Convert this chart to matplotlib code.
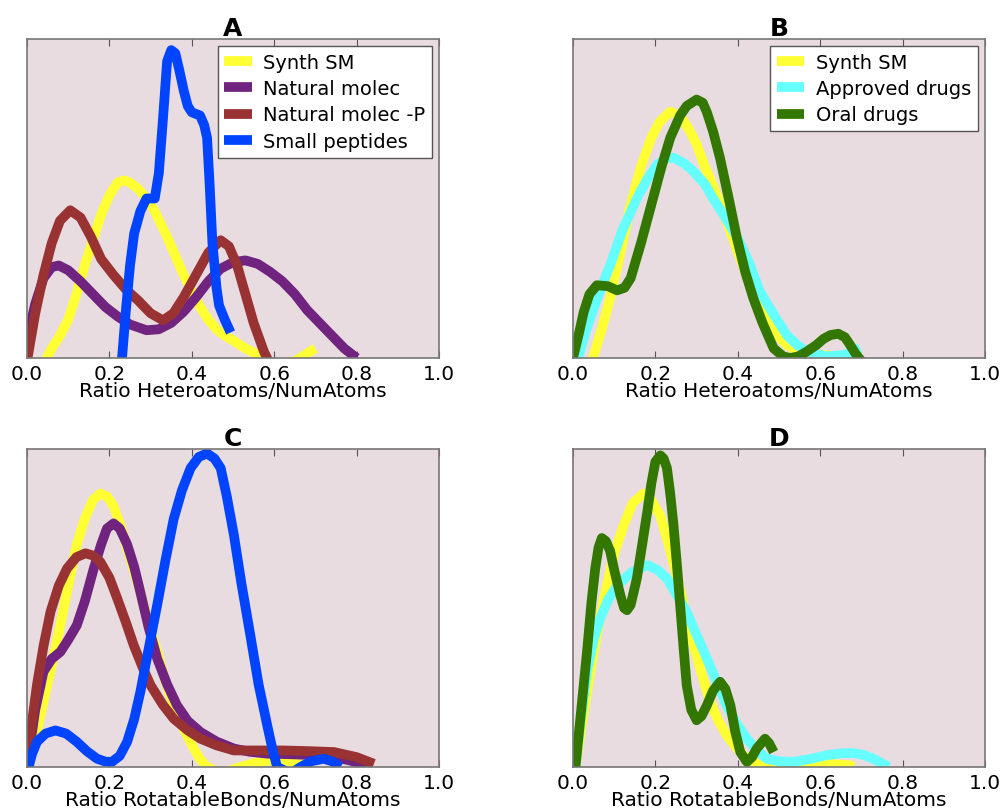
import numpy as np
import matplotlib.pyplot as plt

# panel A - heteroatom ratio
a_synth_x = [0.04, 0.06, 0.08, 0.10, 0.12, 0.14, 0.16, 0.18, 0.20, 0.22, 0.235, 0.25, 0.27, 0.29, 0.31, 0.34, 0.36, 0.38, 0.40, 0.42, 0.44, 0.46, 0.48, 0.50, 0.53, 0.56, 0.60, 0.65, 0.70]
a_synth_y = [-0.02, 0.03, 0.07, 0.12, 0.20, 0.29, 0.37, 0.45, 0.51, 0.55, 0.557, 0.55, 0.53, 0.50, 0.46, 0.38, 0.32, 0.26, 0.21, 0.16, 0.12, 0.09, 0.07, 0.055, 0.03, 0.01, -0.02, -0.01, 0.03]
a_nat_x = [0.0, 0.02, 0.04, 0.06, 0.077, 0.10, 0.13, 0.16, 0.19, 0.22, 0.25, 0.29, 0.32, 0.35, 0.38, 0.41, 0.44, 0.47, 0.50, 0.53, 0.56, 0.59, 0.62, 0.65, 0.68, 0.71, 0.74, 0.77, 0.80]
a_nat_y = [0.06, 0.17, 0.25, 0.285, 0.29, 0.275, 0.24, 0.20, 0.16, 0.13, 0.105, 0.087, 0.09, 0.11, 0.145, 0.19, 0.24, 0.28, 0.30, 0.306, 0.295, 0.27, 0.24, 0.20, 0.15, 0.11, 0.07, 0.03, 0.0]
a_natp_x = [0.0, 0.02, 0.04, 0.06, 0.08, 0.105, 0.13, 0.155, 0.18, 0.21, 0.24, 0.27, 0.30, 0.33, 0.355, 0.38, 0.41, 0.44, 0.47, 0.49, 0.51, 0.53, 0.55, 0.575, 0.59]
a_natp_y = [-0.01, 0.14, 0.26, 0.36, 0.43, 0.463, 0.44, 0.38, 0.31, 0.26, 0.215, 0.18, 0.14, 0.118, 0.14, 0.19, 0.26, 0.33, 0.369, 0.35, 0.29, 0.20, 0.11, 0.02, -0.02]
a_pep_x = [0.23, 0.24, 0.25, 0.26, 0.275, 0.29, 0.31, 0.32, 0.33, 0.34, 0.35, 0.36, 0.37, 0.38, 0.39, 0.40, 0.42, 0.43, 0.437, 0.443, 0.45, 0.46, 0.466, 0.48, 0.494]
a_pep_y = [-0.01, 0.15, 0.29, 0.39, 0.46, 0.50, 0.50, 0.58, 0.75, 0.93, 0.965, 0.955, 0.90, 0.84, 0.79, 0.77, 0.76, 0.73, 0.69, 0.55, 0.36, 0.22, 0.165, 0.12, 0.08]

# panel B - heteroatom ratio, drugs
b_synth_x = [0.046, 0.07, 0.09, 0.115, 0.14, 0.165, 0.19, 0.21, 0.236, 0.26, 0.28, 0.30, 0.32, 0.34, 0.37, 0.40, 0.43, 0.454, 0.49, 0.52, 0.55, 0.60, 0.65, 0.70]
b_synth_y = [-0.01, 0.09, 0.186, 0.33, 0.48, 0.60, 0.69, 0.74, 0.772, 0.76, 0.72, 0.67, 0.60, 0.54, 0.44, 0.333, 0.23, 0.155, 0.08, 0.04, 0.02, 0.01, 0.005, 0.01]
b_appr_x = [0.01, 0.03, 0.05, 0.07, 0.09, 0.12, 0.155, 0.18, 0.204, 0.225, 0.244, 0.27, 0.293, 0.32, 0.34, 0.37, 0.40, 0.43, 0.454, 0.49, 0.52, 0.545, 0.567, 0.616, 0.66, 0.697]
b_appr_y = [-0.01, 0.08, 0.155, 0.225, 0.29, 0.40, 0.50, 0.56, 0.605, 0.625, 0.628, 0.61, 0.584, 0.545, 0.50, 0.44, 0.375, 0.29, 0.207, 0.13, 0.07, 0.04, 0.02, 0.005, 0.01, 0.03]
b_oral_x = [0.0, 0.015, 0.026, 0.04, 0.058, 0.085, 0.107, 0.125, 0.14, 0.165, 0.19, 0.215, 0.236, 0.26, 0.276, 0.30, 0.315, 0.325, 0.34, 0.357, 0.378, 0.398, 0.418, 0.438, 0.46, 0.487, 0.51, 0.527, 0.547, 0.567, 0.59, 0.608, 0.625, 0.644, 0.66, 0.673, 0.685, 0.70]
b_oral_y = [0.0, 0.08, 0.144, 0.20, 0.228, 0.225, 0.212, 0.22, 0.25, 0.36, 0.48, 0.60, 0.69, 0.76, 0.79, 0.81, 0.80, 0.77, 0.71, 0.626, 0.50, 0.375, 0.27, 0.186, 0.11, 0.03, 0.005, 0.0, 0.005, 0.02, 0.04, 0.06, 0.072, 0.076, 0.065, 0.04, 0.015, -0.01]

# panel C - rotatable bond ratio
c_synth_x = [0.004, 0.02, 0.04, 0.06, 0.081, 0.10, 0.121, 0.14, 0.16, 0.178, 0.195, 0.21, 0.227, 0.25, 0.275, 0.295, 0.316, 0.336, 0.356, 0.38, 0.405, 0.42, 0.437, 0.47, 0.518, 0.55, 0.583, 0.648, 0.69]
c_synth_y = [0.0, 0.09, 0.205, 0.32, 0.446, 0.57, 0.70, 0.78, 0.84, 0.86, 0.85, 0.82, 0.76, 0.66, 0.55, 0.45, 0.362, 0.27, 0.194, 0.12, 0.058, 0.025, 0.0, -0.02, 0.0, 0.012, 0.02, 0.015, 0.0]
c_nat_x = [0.0, 0.02, 0.04, 0.06, 0.081, 0.10, 0.121, 0.14, 0.162, 0.18, 0.194, 0.21, 0.225, 0.243, 0.26, 0.275, 0.295, 0.316, 0.34, 0.364, 0.39, 0.421, 0.46, 0.502, 0.54, 0.583, 0.64, 0.704, 0.75, 0.785, 0.826]
c_nat_y = [0.0, 0.18, 0.30, 0.34, 0.362, 0.40, 0.446, 0.52, 0.624, 0.70, 0.75, 0.766, 0.75, 0.70, 0.63, 0.55, 0.44, 0.341, 0.26, 0.194, 0.145, 0.11, 0.08, 0.058, 0.048, 0.042, 0.04, 0.037, 0.03, 0.02, 0.005]
c_natp_x = [0.0, 0.012, 0.024, 0.04, 0.057, 0.077, 0.097, 0.12, 0.142, 0.16, 0.178, 0.20, 0.219, 0.24, 0.259, 0.28, 0.30, 0.33, 0.356, 0.39, 0.421, 0.46, 0.502, 0.56, 0.623, 0.68, 0.745, 0.80, 0.842]
c_natp_y = [0.0, 0.14, 0.257, 0.38, 0.488, 0.57, 0.624, 0.66, 0.672, 0.665, 0.645, 0.595, 0.53, 0.455, 0.383, 0.315, 0.257, 0.195, 0.152, 0.115, 0.089, 0.068, 0.052, 0.052, 0.052, 0.05, 0.047, 0.031, 0.01]
c_pep_x = [0.004, 0.012, 0.024, 0.045, 0.069, 0.095, 0.121, 0.145, 0.17, 0.19, 0.206, 0.225, 0.243, 0.26, 0.275, 0.295, 0.316, 0.336, 0.356, 0.376, 0.397, 0.417, 0.437, 0.455, 0.47, 0.485, 0.502, 0.52, 0.542, 0.562, 0.583, 0.595, 0.607, 0.64, 0.664, 0.69, 0.72, 0.74, 0.761]
c_pep_y = [0.0, 0.04, 0.079, 0.105, 0.115, 0.105, 0.079, 0.05, 0.026, 0.017, 0.016, 0.035, 0.079, 0.15, 0.236, 0.37, 0.51, 0.65, 0.78, 0.87, 0.94, 0.975, 0.986, 0.97, 0.94, 0.85, 0.73, 0.58, 0.414, 0.26, 0.131, 0.06, 0.0, -0.02, 0.0, 0.018, 0.026, 0.018, 0.0]

# panel D - rotatable bond ratio, drugs
d_synth_x = [0.006, 0.025, 0.042, 0.06, 0.082, 0.10, 0.123, 0.145, 0.171, 0.19, 0.212, 0.23, 0.252, 0.272, 0.293, 0.313, 0.333, 0.353, 0.373, 0.394, 0.414, 0.434, 0.454, 0.535, 0.616, 0.673, 0.68]
d_synth_y = [0.0, 0.16, 0.30, 0.43, 0.57, 0.67, 0.76, 0.83, 0.86, 0.84, 0.79, 0.71, 0.60, 0.49, 0.383, 0.29, 0.205, 0.145, 0.10, 0.065, 0.037, 0.018, 0.005, 0.0, 0.01, 0.005, 0.0]
d_appr_x = [0.006, 0.02, 0.034, 0.05, 0.066, 0.085, 0.107, 0.14, 0.18, 0.205, 0.228, 0.25, 0.276, 0.30, 0.325, 0.35, 0.373, 0.40, 0.422, 0.445, 0.47, 0.50, 0.535, 0.575, 0.616, 0.65, 0.68, 0.705, 0.729, 0.75, 0.766]
d_appr_y = [0.0, 0.16, 0.30, 0.40, 0.467, 0.525, 0.57, 0.61, 0.635, 0.62, 0.593, 0.545, 0.488, 0.415, 0.341, 0.265, 0.194, 0.13, 0.089, 0.055, 0.026, 0.018, 0.016, 0.025, 0.037, 0.043, 0.044, 0.038, 0.026, 0.012, 0.0]
d_oral_x = [0.006, 0.02, 0.034, 0.045, 0.054, 0.062, 0.07, 0.08, 0.09, 0.10, 0.115, 0.124, 0.131, 0.14, 0.155, 0.168, 0.18, 0.19, 0.20, 0.212, 0.22, 0.228, 0.236, 0.244, 0.252, 0.26, 0.268, 0.276, 0.287, 0.30, 0.312, 0.325, 0.34, 0.357, 0.37, 0.382, 0.394, 0.406, 0.422, 0.434, 0.446, 0.466, 0.476, 0.487]
d_oral_y = [0.0, 0.18, 0.362, 0.52, 0.624, 0.69, 0.72, 0.71, 0.68, 0.62, 0.54, 0.50, 0.493, 0.51, 0.593, 0.70, 0.80, 0.89, 0.96, 0.98, 0.97, 0.94, 0.86, 0.76, 0.64, 0.51, 0.38, 0.257, 0.18, 0.147, 0.16, 0.194, 0.24, 0.268, 0.245, 0.194, 0.11, 0.047, 0.016, 0.03, 0.058, 0.089, 0.075, 0.047]

ticks = [0.0, 0.2, 0.4, 0.6, 0.8, 1.0]
tick_labels = ['0.0', '0.2', '0.4', '0.6', '0.8', '1.0']

yellow = '#ffff33'
purple = '#70237f'
brown = '#993333'
blue = '#0044ff'
cyan = '#66ffff'
green = '#337700'
bg = '#e8dce0'
lw = 7
kw = dict(lw=lw, solid_capstyle='butt', solid_joinstyle='round')

fig = plt.figure(figsize=(10.04, 8.12), dpi=100)
axA = fig.add_axes([0.0269, 0.5579, 0.4104, 0.3929])
axB = fig.add_axes([0.5707, 0.5579, 0.4104, 0.3929])
axC = fig.add_axes([0.0269, 0.0542, 0.4104, 0.3916])
axD = fig.add_axes([0.5707, 0.0542, 0.4104, 0.3916])

axA.plot(a_synth_x, a_synth_y, color=yellow, label='Synth SM', **kw)
axA.plot(a_nat_x, a_nat_y, color=purple, label='Natural molec', **kw)
axA.plot(a_natp_x, a_natp_y, color=brown, label='Natural molec -P', **kw)
axA.plot(a_pep_x, a_pep_y, color=blue, label='Small peptides', **kw)

axB.plot(b_synth_x, b_synth_y, color=yellow, label='Synth SM', **kw)
axB.plot(b_appr_x, b_appr_y, color=cyan, label='Approved drugs', **kw)
axB.plot(b_oral_x, b_oral_y, color=green, label='Oral drugs', **kw)

axC.plot(c_synth_x, c_synth_y, color=yellow, **kw)
axC.plot(c_nat_x, c_nat_y, color=purple, **kw)
axC.plot(c_natp_x, c_natp_y, color=brown, **kw)
axC.plot(c_pep_x, c_pep_y, color=blue, **kw)

axD.plot(d_synth_x, d_synth_y, color=yellow, **kw)
axD.plot(d_appr_x, d_appr_y, color=cyan, **kw)
axD.plot(d_oral_x, d_oral_y, color=green, **kw)

titles = ['A', 'B', 'C', 'D']
xlabels = ['Ratio Heteroatoms/NumAtoms', 'Ratio Heteroatoms/NumAtoms',
           'Ratio RotatableBonds/NumAtoms', 'Ratio RotatableBonds/NumAtoms']
for ax, t, xl in zip([axA, axB, axC, axD], titles, xlabels):
    ax.set_facecolor(bg)
    ax.set_xlim(0, 1)
    ax.set_ylim(0, 1)
    ax.set_xticks(ticks)
    ax.set_xticklabels(tick_labels, fontsize=14.5)
    ax.set_yticks([])
    ax.tick_params(axis='x', direction='in', top=True, length=5, pad=4, color='#555555')
    ax.set_title(t, fontsize=18, fontweight='bold', pad=3)
    ax.set_xlabel(xl, fontsize=14.5, labelpad=-1)
    for s in ax.spines.values():
        s.set_color('#777777')
        s.set_linewidth(1.2)

for ax in [axA, axB]:
    leg = ax.legend(loc='upper right', fontsize=14, handlelength=1.4, borderaxespad=0.35,
                    fancybox=False, framealpha=1, labelspacing=0.38, handletextpad=0.6,
                    borderpad=0.35)
    leg.get_frame().set_edgecolor('#555555')

fig.savefig('out.png', dpi=100)
